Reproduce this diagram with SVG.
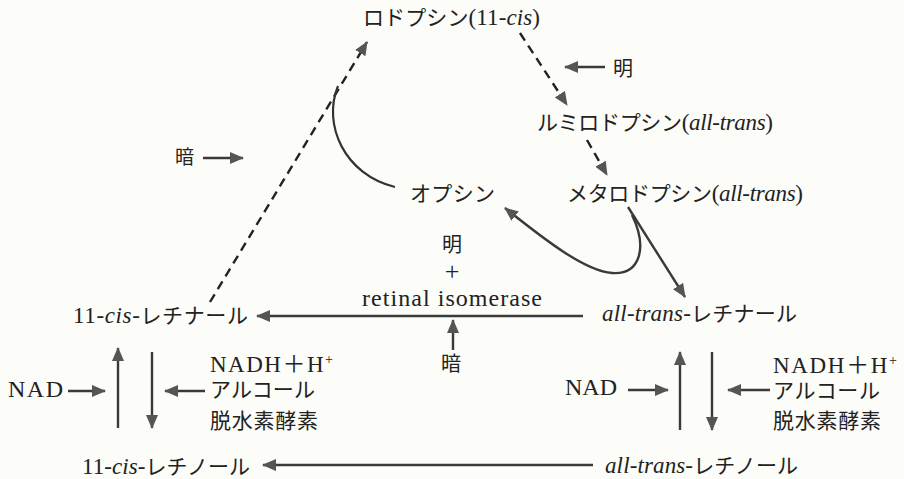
<svg xmlns="http://www.w3.org/2000/svg" width="904" height="479" viewBox="0 0 904 479">
<defs>
<marker id="ah" viewBox="0 0 14 12" refX="13" refY="6" markerWidth="14" markerHeight="12" orient="auto" markerUnits="userSpaceOnUse">
<path d="M0,0 L14,6 L0,12 z" fill="#555"/>
</marker>
<style>
.t{font-family:"Liberation Serif","Noto Sans CJK JP",serif;font-size:21px;fill:#222}
.j{font-family:"Noto Sans CJK JP","Liberation Serif",sans-serif;font-size:20px;fill:#222}
.L{font-size:23px}
.i{font-style:italic;font-size:23px}
.sup{font-size:14px}
.ln{fill:none;stroke:#333;stroke-width:2.2}
.ar{fill:none;stroke:#3a3a3a;stroke-width:2.4;marker-end:url(#ah)}
.ds{fill:none;stroke:#222;stroke-width:2.4;stroke-dasharray:9 6;marker-end:url(#ah)}
</style>
</defs>
<rect width="904" height="479" fill="#fcfcf8"/>
<g id="connectors">
<path class="ds" d="M210,302 L367,42"/>
<path class="ds" d="M520,33 L567,105"/>
<path class="ds" d="M587,140 L607,175"/>
<path class="ln" d="M395,187 C345,175 322,125 338,86"/>
<path class="ar" d="M632,215 C648,248 640,275 612,273 C585,271 545,240 505,208"/>
<path class="ar" d="M628,207 L685,297"/>
<path class="ar" d="M583,316 L257,316"/>
<path class="ar" d="M593,465 L263,465"/>
<path class="ar" d="M453,350 L453,320"/>
<path class="ar" d="M605,67 L565,67"/>
<path class="ar" d="M203,158 L243,158"/>
<path class="ar" d="M118,428 L118,348"/>
<path class="ar" d="M152,352 L152,428"/>
<path class="ar" d="M68,391 L105,391"/>
<path class="ar" d="M205,391 L165,391"/>
<path class="ar" d="M680,430 L680,352"/>
<path class="ar" d="M712,352 L712,430"/>
<path class="ar" d="M628,390 L668,390"/>
<path class="ar" d="M770,390 L728,390"/>
</g>
<g id="rhodopsin"><text class="t" x="363" y="25" textLength="177" lengthAdjust="spacing">ロドプシン<tspan class="L">(11-</tspan><tspan class="i">cis</tspan><tspan class="L">)</tspan></text></g>
<g id="light1"><text class="j" x="613" y="76">明</text></g>
<g id="lumirhodopsin"><text class="t" x="537" y="130" textLength="236" lengthAdjust="spacing">ルミロドプシン<tspan class="L">(</tspan><tspan class="i">all-trans</tspan><tspan class="L">)</tspan></text></g>
<g id="metarhodopsin"><text class="t" x="567" y="201" textLength="236" lengthAdjust="spacing">メタロドプシン<tspan class="L">(</tspan><tspan class="i">all-trans</tspan><tspan class="L">)</tspan></text></g>
<g id="opsin"><text class="t" x="410" y="201" textLength="85" lengthAdjust="spacing">オプシン</text></g>
<g id="dark1"><text class="j" x="175" y="164" style="font-size:19px">暗</text></g>
<g id="isomerase">
<text class="j" x="442" y="252">明</text>
<text class="t" x="452" y="280" text-anchor="middle" style="font-size:26px">+</text>
<text class="t" x="362" y="306" style="font-size:24px" textLength="180" lengthAdjust="spacing">retinal isomerase</text>
</g>
<g id="dark2"><text class="j" x="441" y="371">暗</text></g>
<g id="cis-retinal"><text class="t" x="73" y="323" textLength="175" lengthAdjust="spacing"><tspan class="L">11-</tspan><tspan class="i">cis</tspan><tspan class="L">-</tspan>レチナール</text></g>
<g id="trans-retinal"><text class="t" x="602" y="321" textLength="195" lengthAdjust="spacing"><tspan class="i">all-trans</tspan><tspan class="L">-</tspan>レチナール</text></g>
<g id="cis-retinol"><text class="t" x="82" y="474" textLength="168" lengthAdjust="spacing"><tspan class="L">11-</tspan><tspan class="i">cis</tspan><tspan class="L">-</tspan>レチノール</text></g>
<g id="trans-retinol"><text class="t" x="605" y="473" textLength="193" lengthAdjust="spacing"><tspan class="i">all-trans</tspan><tspan class="L">-</tspan>レチノール</text></g>
<g id="left-cofactors">
<text class="t" x="8" y="397" style="font-size:24px" textLength="55" lengthAdjust="spacing">NAD</text>
<text class="t" x="210" y="372" style="font-size:23px" textLength="123" lengthAdjust="spacing">NADH＋H<tspan class="sup" dy="-8">+</tspan></text>
<text class="t" x="210" y="397" textLength="105" lengthAdjust="spacing">アルコール</text>
<text class="t" x="210" y="428" textLength="108" lengthAdjust="spacing">脱水素酵素</text>
</g>
<g id="right-cofactors">
<text class="t" x="565" y="395" style="font-size:24px" textLength="52" lengthAdjust="spacing">NAD</text>
<text class="t" x="773" y="373" style="font-size:23px" textLength="124" lengthAdjust="spacing">NADH＋H<tspan class="sup" dy="-8">+</tspan></text>
<text class="t" x="773" y="398" textLength="107" lengthAdjust="spacing">アルコール</text>
<text class="t" x="773" y="428" textLength="108" lengthAdjust="spacing">脱水素酵素</text>
</g>
</svg>
